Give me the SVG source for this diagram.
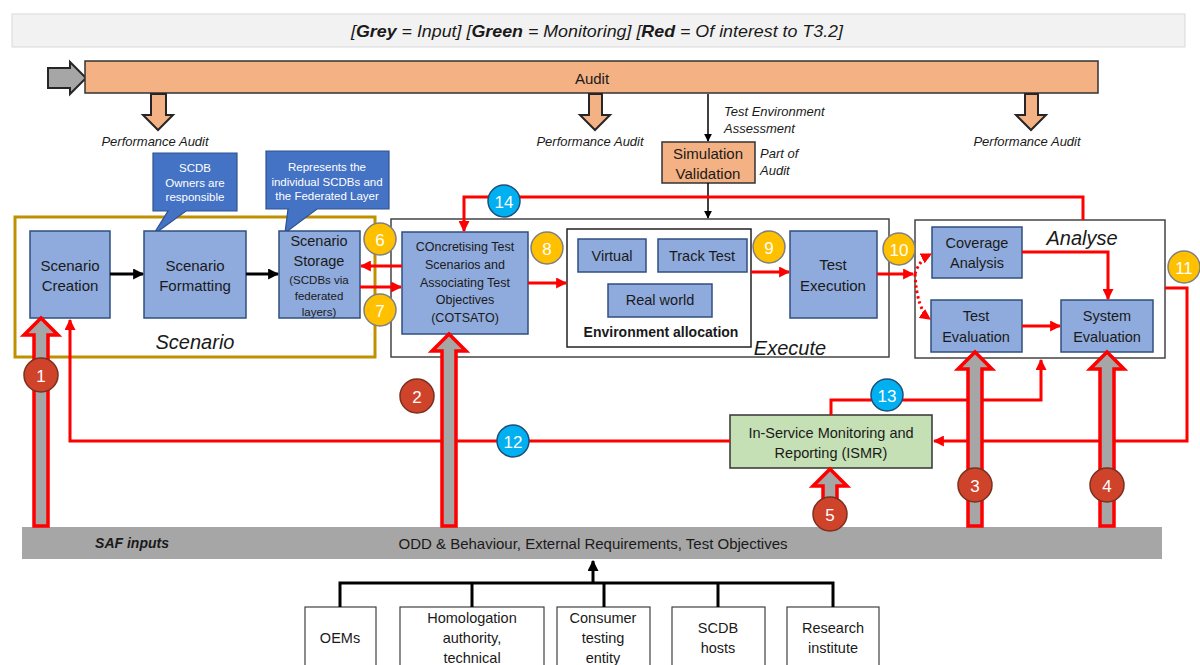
<svg xmlns="http://www.w3.org/2000/svg" width="1200" height="665" viewBox="0 0 1200 665">
<style>
text{font-family:"Liberation Sans",Arial,sans-serif;dominant-baseline:central;text-anchor:middle;fill:#1a1a1a}
.blue{fill:#8faadc;stroke:#2f4f7f;stroke-width:1.5}
.orange{fill:#f4b183;stroke:#333;stroke-width:1.5}
.frame{fill:#fff;stroke:#444;stroke-width:1.5}
.red{fill:none;stroke:#ff0000;stroke-width:3}
.it{font-style:italic}
.w{fill:#fff}
.yc{fill:#ffc000;stroke:#7f7f7f;stroke-width:1.5}
.rc{fill:#d0432b;stroke:#7a3020;stroke-width:1.5}
.bc{fill:#00b0f0;stroke:#1f4e79;stroke-width:1.5}
.inp{fill:#a6a6a6;stroke:#ff0000;stroke-width:3.5;stroke-linejoin:miter}
.pa{fill:#f4b183;stroke:#262626;stroke-width:2}
.sb{fill:#fff;stroke:#404040;stroke-width:1.2}
</style>
<defs>
<marker id="ar" viewBox="0 0 10 10" markerWidth="11" markerHeight="11" refX="9" refY="5" orient="auto" markerUnits="userSpaceOnUse"><path d="M0,0 L10,5 L0,10 z" fill="#ff0000"/></marker>
<marker id="ab" viewBox="0 0 10 10" markerWidth="11" markerHeight="11" refX="9" refY="5" orient="auto" markerUnits="userSpaceOnUse"><path d="M0,0 L10,5 L0,10 z" fill="#000"/></marker>
<marker id="abs" viewBox="0 0 10 10" markerWidth="8" markerHeight="8" refX="9" refY="5" orient="auto" markerUnits="userSpaceOnUse"><path d="M0,0 L10,5 L0,10 z" fill="#000"/></marker>
</defs>
<rect width="1200" height="665" fill="#fff"/>

<!-- legend -->
<g id="legend">
<rect x="12" y="14" width="1173" height="33" fill="#f2f2f2" stroke="#d9d9d9"/>
<text x="597" y="31" class="it" font-size="17" textLength="492" lengthAdjust="spacingAndGlyphs">[<tspan font-weight="bold">Grey</tspan> = Input] [<tspan font-weight="bold">Green</tspan> = Monitoring] [<tspan font-weight="bold">Red</tspan> = Of interest to T3.2]</text>
</g>

<!-- audit -->
<g id="audit">
<polygon points="48,68 70,68 70,62 86,78 70,94 70,88 48,88" fill="#a6a6a6" stroke="#262626" stroke-width="2"/>
<rect x="85" y="61" width="1013" height="32" class="orange"/>
<text x="592" y="78" font-size="15">Audit</text>
</g>
<g id="perf-audit">
<polygon class="pa" points="151,94 166,94 166,115 173,115 158,130 143,115 151,115"/>
<text x="155" y="141" class="it" font-size="13">Performance Audit</text>
<polygon class="pa" points="589,94 602,94 602,115 610,115 595,130 580,115 589,115"/>
<text x="590" y="141" class="it" font-size="13">Performance Audit</text>
<polygon class="pa" points="1025,94 1038,94 1038,115 1046,115 1031,130 1016,115 1025,115"/>
<text x="1027" y="141" class="it" font-size="13">Performance Audit</text>
</g>

<g id="sim-validation">
<rect x="662" y="142" width="93" height="41" class="orange"/>
<text x="708" y="153" font-size="15">Simulation</text>
<text x="708" y="173" font-size="15">Validation</text>
<text x="724" y="111" class="it" font-size="13" style="text-anchor:start">Test Environment</text>
<text x="724" y="128" class="it" font-size="13" style="text-anchor:start">Assessment</text>
<text x="760" y="153" class="it" font-size="13" style="text-anchor:start">Part of</text>
<text x="760" y="170" class="it" font-size="13" style="text-anchor:start">Audit</text>
</g>

<!-- frames -->
<g id="scenario-frame">
<rect x="15" y="217" width="360" height="140" fill="#fff" stroke="#bf9000" stroke-width="3"/>
<text x="195" y="342" class="it" font-size="20">Scenario</text>
</g>
<g id="execute-frame">
<rect x="391" y="219" width="498" height="138" class="frame"/>
<text x="790" y="348" class="it" font-size="20">Execute</text>
</g>
<g id="analyse-frame">
<rect x="915" y="220" width="250" height="138" class="frame"/>
<text x="1082" y="238" class="it" font-size="20">Analyse</text>
</g>

<!-- callouts -->
<g id="callout-owners">
<path d="M153,153 H237 V211 H186 L153,235 L168,211 H153 Z" fill="#4472c4" stroke="#2f528f" stroke-width="1.2"/>
<text x="195" y="168" font-size="11.5" class="w">SCDB</text>
<text x="195" y="183" font-size="11.5" class="w">Owners are</text>
<text x="195" y="197" font-size="11.5" class="w">responsible</text>
</g>
<g id="callout-represents">
<path d="M266,151 H389 V209 H317 L285,233 L288,209 H266 Z" fill="#4472c4" stroke="#2f528f" stroke-width="1.2"/>
<text x="327" y="167" font-size="11.5" class="w">Represents the</text>
<text x="327" y="182" font-size="11.5" class="w">individual SCDBs and</text>
<text x="327" y="196" font-size="11.5" class="w">the Federated Layer</text>
</g>

<!-- scenario nodes -->
<g id="scenario-creation">
<rect x="30" y="231" width="80" height="87" class="blue"/>
<text x="70" y="265" font-size="15">Scenario</text>
<text x="70" y="285" font-size="15">Creation</text>
</g>
<g id="scenario-formatting">
<rect x="144" y="231" width="102" height="87" class="blue"/>
<text x="195" y="265" font-size="15">Scenario</text>
<text x="195" y="285" font-size="15">Formatting</text>
</g>
<g id="scenario-storage">
<rect x="279" y="231" width="81" height="87" class="blue"/>
<text x="319" y="241" font-size="14.5">Scenario</text>
<text x="319" y="261" font-size="14.5">Storage</text>
<text x="319" y="280" font-size="11.5">(SCDBs via</text>
<text x="319" y="296" font-size="11.5">federated</text>
<text x="319" y="312" font-size="11.5">layers)</text>
</g>

<!-- execute nodes -->
<g id="cotsato">
<rect x="402" y="232" width="126" height="102" class="blue"/>
<text x="465" y="247" font-size="12.5">COncretising Test</text>
<text x="465" y="265" font-size="12.5">Scenarios and</text>
<text x="465" y="283" font-size="12.5">Associating Test</text>
<text x="465" y="300" font-size="12.5">Objectives</text>
<text x="465" y="318" font-size="12.5">(COTSATO)</text>
</g>
<g id="environment-allocation">
<rect x="567" y="229" width="184" height="118" fill="#fff" stroke="#222" stroke-width="1.5"/>
<text x="661" y="332" font-size="14" font-weight="bold">Environment allocation</text>
</g>
<g id="virtual">
<rect x="578" y="239" width="68" height="33" class="blue"/>
<text x="612" y="256" font-size="14.5">Virtual</text>
</g>
<g id="track-test">
<rect x="658" y="239" width="89" height="33" class="blue"/>
<text x="702" y="256" font-size="14.5">Track Test</text>
</g>
<g id="real-world">
<rect x="608" y="284" width="104" height="33" class="blue"/>
<text x="660" y="300" font-size="14.5">Real world</text>
</g>
<g id="test-execution">
<rect x="790" y="231" width="87" height="87" class="blue"/>
<text x="833" y="264" font-size="15">Test</text>
<text x="833" y="285" font-size="15">Execution</text>
</g>

<!-- analyse nodes -->
<g id="coverage-analysis">
<rect x="932" y="227" width="90" height="51" class="blue"/>
<text x="977" y="243" font-size="14.5">Coverage</text>
<text x="977" y="263" font-size="14.5">Analysis</text>
</g>
<g id="test-evaluation">
<rect x="931" y="300" width="91" height="52" class="blue"/>
<text x="976" y="316" font-size="14.5">Test</text>
<text x="976" y="337" font-size="14.5">Evaluation</text>
</g>
<g id="system-evaluation">
<rect x="1061" y="300" width="92" height="52" class="blue"/>
<text x="1107" y="316" font-size="14.5">System</text>
<text x="1107" y="337" font-size="14.5">Evaluation</text>
</g>

<g id="ismr">
<rect x="730" y="415" width="202" height="53" fill="#c5e0b4" stroke="#333" stroke-width="1.5"/>
<text x="831" y="433" font-size="14.5">In-Service Monitoring and</text>
<text x="831" y="453" font-size="14.5">Reporting (ISMR)</text>
</g>

<g id="saf-inputs">
<rect x="22" y="527" width="1140" height="32" fill="#a6a6a6"/>
<text x="132" y="543" font-size="14" font-weight="bold" class="it">SAF inputs</text>
<text x="593" y="543" font-size="15">ODD &amp; Behaviour, External Requirements, Test Objectives</text>
</g>

<!-- stakeholders -->
<g id="oems"><rect x="305" y="607" width="71" height="70" class="sb"/><text x="340" y="638" font-size="14.5">OEMs</text></g>
<g id="homologation"><rect x="400" y="607" width="144" height="70" class="sb"/><text x="472" y="618" font-size="14.5">Homologation</text><text x="472" y="638" font-size="14.5">authority,</text><text x="472" y="658" font-size="14.5">technical</text></g>
<g id="consumer"><rect x="557" y="607" width="93" height="70" class="sb"/><text x="603" y="618" font-size="14.5">Consumer</text><text x="603" y="638" font-size="14.5">testing</text><text x="603" y="658" font-size="14.5">entity</text></g>
<g id="scdb-hosts"><rect x="672" y="607" width="93" height="70" class="sb"/><text x="718" y="628" font-size="14.5">SCDB</text><text x="718" y="648" font-size="14.5">hosts</text></g>
<g id="research"><rect x="787" y="607" width="92" height="70" class="sb"/><text x="833" y="628" font-size="14.5">Research</text><text x="833" y="648" font-size="14.5">institute</text></g>

<!-- connectors -->
<g id="connectors">
<path d="M708,94 V141" stroke="#000" stroke-width="1.5" fill="none" marker-end="url(#abs)"/>
<path d="M708,183 V218" stroke="#000" stroke-width="1.5" fill="none" marker-end="url(#abs)"/>
<path d="M110,274 H143" stroke="#000" stroke-width="3" fill="none" marker-end="url(#ab)"/>
<path d="M246,274 H278" stroke="#000" stroke-width="3" fill="none" marker-end="url(#ab)"/>
<path d="M340,607 V583 H833 V607 M472,583 V607 M604,583 V607 M718,583 V607" stroke="#000" stroke-width="3" fill="none"/>
<path d="M593,583 V561" stroke="#000" stroke-width="3" fill="none" marker-end="url(#ab)"/>

<path class="red" d="M402,266 H361" marker-end="url(#ar)"/>
<path class="red" d="M360,287 H401" marker-end="url(#ar)"/>
<path class="red" d="M528,283 H566" marker-end="url(#ar)"/>
<path class="red" d="M751,272 H789" marker-end="url(#ar)"/>
<path class="red" d="M877,274 H913" marker-end="url(#ar)"/>
<path class="red" d="M915,274 Q919,260 931,254" stroke-dasharray="2.5 3" marker-end="url(#ar)"/>
<path class="red" d="M915,274 Q917,310 930,319" stroke-dasharray="2.5 3" marker-end="url(#ar)"/>
<path class="red" d="M1022,252 H1108 V299" marker-end="url(#ar)"/>
<path class="red" d="M1022,326 H1060" marker-end="url(#ar)"/>
<path class="red" d="M1083,220 V197 H464 V231" marker-end="url(#ar)"/>
<path class="red" d="M730,441 H70 V320" marker-end="url(#ar)"/>
<path class="red" d="M831,415 V400 H1041 V360" marker-end="url(#ar)"/>
<path class="red" d="M1165,288 H1187 V441 H934" marker-end="url(#ar)"/>

<polygon class="inp" points="34,526 34,335 24,335 41,318 58,335 48,335 48,526"/>
<polygon class="inp" points="442,526 442,351 432,351 449,334 466,351 456,351 456,526"/>
<polygon class="inp" points="968,526 968,369 958,369 975,352 992,369 982,369 982,526"/>
<polygon class="inp" points="1100,526 1100,369 1090,369 1107,352 1124,369 1114,369 1114,526"/>
<polygon class="inp" points="823,526 823,486 813,486 830,469 847,486 837,486 837,526"/>
</g>

<!-- number badges -->
<g id="badges">
<circle cx="41" cy="375" r="17" class="rc"/><text x="41" y="376" class="w" font-size="17">1</text>
<circle cx="417" cy="396" r="17" class="rc"/><text x="417" y="397" class="w" font-size="17">2</text>
<circle cx="975" cy="485" r="17" class="rc"/><text x="975" y="486" class="w" font-size="17">3</text>
<circle cx="1107" cy="485" r="17" class="rc"/><text x="1107" y="486" class="w" font-size="17">4</text>
<circle cx="830" cy="514" r="17" class="rc"/><text x="830" y="515" class="w" font-size="17">5</text>
<circle cx="380" cy="239" r="16" class="yc"/><text x="380" y="240" class="w" font-size="17">6</text>
<circle cx="380" cy="310" r="16" class="yc"/><text x="380" y="311" class="w" font-size="17">7</text>
<circle cx="547" cy="248" r="16" class="yc"/><text x="547" y="249" class="w" font-size="17">8</text>
<circle cx="769" cy="247" r="16" class="yc"/><text x="769" y="248" class="w" font-size="17">9</text>
<circle cx="899" cy="249" r="16" class="yc"/><text x="899" y="250" class="w" font-size="17">10</text>
<circle cx="1184" cy="267" r="16" class="yc"/><text x="1184" y="268" class="w" font-size="17">11</text>
<circle cx="513" cy="441" r="16" class="bc"/><text x="513" y="442" class="w" font-size="17">12</text>
<circle cx="887" cy="395" r="16" class="bc"/><text x="887" y="396" class="w" font-size="17">13</text>
<circle cx="504" cy="201" r="16" class="bc"/><text x="504" y="202" class="w" font-size="17">14</text>
</g>
</svg>
